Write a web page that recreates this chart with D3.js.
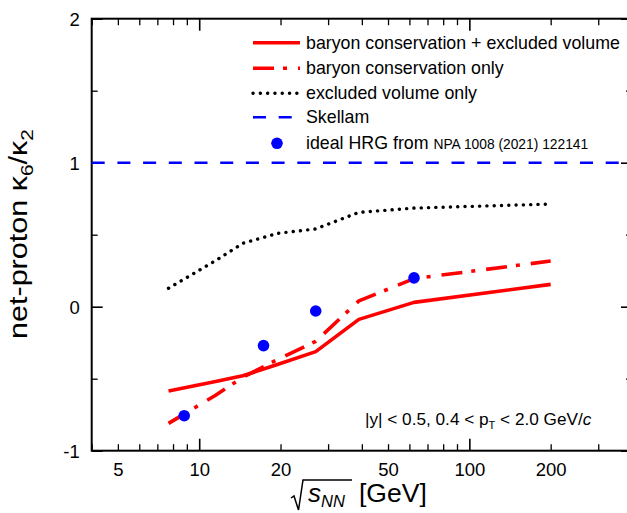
<!DOCTYPE html>
<html><head><meta charset="utf-8">
<script src="https://cdn.jsdelivr.net/npm/d3@7"></script>
<style>
body{margin:0;background:#fff;}
text{font-family:"Liberation Sans",Arial,Helvetica,sans-serif;fill:#000;}
</style></head>
<body>
<svg id="chart" width="627" height="513"></svg>
<script>
// ---- data ----
const energies = [7.7, 11.5, 14.5, 19.6, 27, 39, 62.4, 200];
const bcEv = [-0.585, -0.52, -0.48, -0.40, -0.312, -0.088, 0.03, 0.155];
const bcOnly = [-0.81, -0.615, -0.49, -0.365, -0.24, 0.04, 0.195, 0.317];
const evOnly = [0.128, 0.32, 0.44, 0.51, 0.54, 0.655, 0.685, 0.713];
const skellam = 1;
const hrgE = [8.8, 17.3, 27, 62.4];
const hrgV = [-0.757, -0.27, -0.03, 0.20];
const xLabelTicks = [5, 10, 20, 50, 100, 200];
const xMajorTicks = [10, 100];
const xMinorTicks = [4, 5, 6, 7, 8, 9, 20, 30, 40, 50, 60, 70, 80, 90, 200, 300];
const yMajorTicks = [-1, 0, 1, 2];
const yMinorTicks = [-0.5, 0.5, 1.5];
const legendLabels = ["baryon conservation + excluded volume", "baryon conservation only", "excluded volume only", "Skellam"];

const L = 91.7, R = 632, T = 18.7, B = 450.7;
const svg = d3.select("#chart");
const x = d3.scaleLog().domain([4, 400]).range([L, R]);
const y = d3.scaleLinear().domain([-1, 2]).range([B, T]);

const RED = "#ff0000", BLUE = "#0000ff";
const styles = {
  solid: {stroke: RED, width: 3.6, dash: null, cap: "butt"},
  dashdot: {stroke: RED, width: 3.6, dash: "21,9,4,11", cap: "butt"},
  dotted: {stroke: "#000", width: 3.4, dash: "0.1,7.2", cap: "round"},
  skellam: {stroke: BLUE, width: 2.6, dash: "13,12.7", cap: "butt"}
};

function styleLine(sel, s) {
  sel.attr("fill", "none").attr("stroke", s.stroke).attr("stroke-width", s.width)
    .attr("stroke-linecap", s.cap).attr("stroke-linejoin", "round");
  if (s.dash) sel.attr("stroke-dasharray", s.dash);
  return sel;
}

// ---- axes ----
function clean(g) { g.select(".domain").remove(); }
const fmt = d => String(d);
// bottom
svg.append("g").attr("transform", `translate(0,${B})`)
  .call(d3.axisBottom(x).tickValues(xMajorTicks).tickSize(-12).tickFormat(""))
  .call(clean).selectAll("line").attr("stroke-width", 1.6);
svg.append("g").attr("transform", `translate(0,${B})`)
  .call(d3.axisBottom(x).tickValues(xMinorTicks).tickSize(-6.5).tickFormat(""))
  .call(clean).selectAll("line").attr("stroke-width", 1.3);
const xl = svg.append("g").attr("transform", `translate(0,${B})`)
  .call(d3.axisBottom(x).tickValues(xLabelTicks).tickSize(0).tickFormat(fmt))
  .call(clean);
xl.selectAll("text").attr("y", 25.3).attr("dy", null)
  .style("font-size", "18.5px").style("font-family", '"Liberation Sans",Arial,sans-serif');
// top
svg.append("g").attr("transform", `translate(0,${T})`)
  .call(d3.axisTop(x).tickValues(xMajorTicks).tickSize(-12).tickFormat(""))
  .call(clean).selectAll("line").attr("stroke-width", 1.6);
svg.append("g").attr("transform", `translate(0,${T})`)
  .call(d3.axisTop(x).tickValues(xMinorTicks).tickSize(-6.5).tickFormat(""))
  .call(clean).selectAll("line").attr("stroke-width", 1.3);
// left
svg.append("g").attr("transform", `translate(${L},0)`)
  .call(d3.axisLeft(y).tickValues(yMajorTicks).tickSize(-11).tickFormat(""))
  .call(clean).selectAll("line").attr("stroke-width", 1.6);
svg.append("g").attr("transform", `translate(${L},0)`)
  .call(d3.axisLeft(y).tickValues(yMinorTicks).tickSize(-6).tickFormat(""))
  .call(clean).selectAll("line").attr("stroke-width", 1.3);
const yl = svg.append("g").attr("transform", `translate(${L},0)`)
  .call(d3.axisLeft(y).tickValues(yMajorTicks).tickSize(0).tickPadding(12).tickFormat(fmt))
  .call(clean);
yl.selectAll("text").style("font-size", "18.5px").attr("dy", "0.36em")
  .style("font-family", '"Liberation Sans",Arial,sans-serif');
// right
svg.append("g").attr("transform", `translate(${R},0)`)
  .call(d3.axisLeft(y).tickValues(yMajorTicks).tickSize(11).tickFormat(""))
  .call(clean).selectAll("line").attr("stroke-width", 1.6);
svg.append("g").attr("transform", `translate(${R},0)`)
  .call(d3.axisLeft(y).tickValues(yMinorTicks).tickSize(6).tickFormat(""))
  .call(clean).selectAll("line").attr("stroke-width", 1.3);

// frame
svg.append("rect").attr("x", L).attr("y", T).attr("width", R - L).attr("height", B - T)
  .attr("fill", "none").attr("stroke", "#000").attr("stroke-width", 2);

// ---- series ----
const line = d3.line().x(d => x(d[0])).y(d => y(d[1]));
styleLine(svg.append("path").attr("d", line([[4, skellam], [400, skellam]])), styles.skellam);
styleLine(svg.append("path").attr("d", line(energies.map((e, i) => [e, evOnly[i]]))), styles.dotted);
styleLine(svg.append("path").attr("d", line(energies.map((e, i) => [e, bcOnly[i]]))), styles.dashdot);
styleLine(svg.append("path").attr("d", line(energies.map((e, i) => [e, bcEv[i]]))), styles.solid);
svg.append("g").selectAll("circle").data(hrgE).join("circle")
  .attr("cx", d => x(d)).attr("cy", (d, i) => y(hrgV[i])).attr("r", 5.8).attr("fill", BLUE);

// ---- legend ----
const legY = [42.7, 68.3, 93.3, 117.3, 143.3];
const legStyles = [styles.solid, styles.dashdot, styles.dotted, styles.skellam];
legStyles.forEach((s, i) => {
  styleLine(svg.append("path").attr("d", `M253,${legY[i]}H300`), s);
  svg.append("text").attr("x", 306).attr("y", legY[i] + 6).style("font-size", "17.8px").text(legendLabels[i]);
});
svg.append("circle").attr("cx", 277).attr("cy", legY[4]).attr("r", 5.8).attr("fill", BLUE);
const hrgT = svg.append("text").attr("x", 306).attr("y", legY[4] + 6).style("font-size", "17.8px");
hrgT.append("tspan").text("ideal HRG from ");
hrgT.append("tspan").style("font-size", "13.8px").text("NPA 1008 (2021) 122141");

// ---- annotation ----
const ann = svg.append("text").attr("x", 365).attr("y", 425).style("font-size", "17.2px");
ann.append("tspan").text("|y| < 0.5, 0.4 < p");
ann.append("tspan").attr("dy", 4).style("font-size", "11px").text("T");
ann.append("tspan").attr("dy", -4).text(" < 2.0 GeV/");
ann.append("tspan").style("font-style", "italic").text("c");

// ---- axis titles ----
// x title: sqrt(s_NN) [GeV]
svg.append("path").attr("d", "M291,498 L294,496 L298.5,510 L303,480 L352,480")
  .attr("fill", "none").attr("stroke", "#000").attr("stroke-width", 1.5).attr("stroke-linejoin", "miter");
const xt = svg.append("text").attr("x", 308).attr("y", 502).style("font-size", "26px");
xt.append("tspan").style("font-style", "italic").text("s");
xt.append("tspan").attr("dy", 5).style("font-size", "16.5px").style("font-style", "italic").text("NN");
svg.append("text").attr("x", 359).attr("y", 502).style("font-size", "26.5px").text("[GeV]");

// y title
const ytg = svg.append("g").attr("transform", "translate(27,234) rotate(-90)");
const yt = ytg.append("text").attr("x", 0).attr("y", 0).style("font-size", "25px");
yt.append("tspan").text("net-proton κ");
yt.append("tspan").attr("dy", 6).style("font-size", "17px").text("6");
yt.append("tspan").attr("dy", -6).text("/κ");
yt.append("tspan").attr("dy", 6).style("font-size", "17px").text("2");
const bb = yt.node().getBBox();
const sx = 210 / bb.width;
yt.attr("transform", `scale(${sx},1) translate(${-bb.x - bb.width / 2},0)`);
</script>
</body></html>
